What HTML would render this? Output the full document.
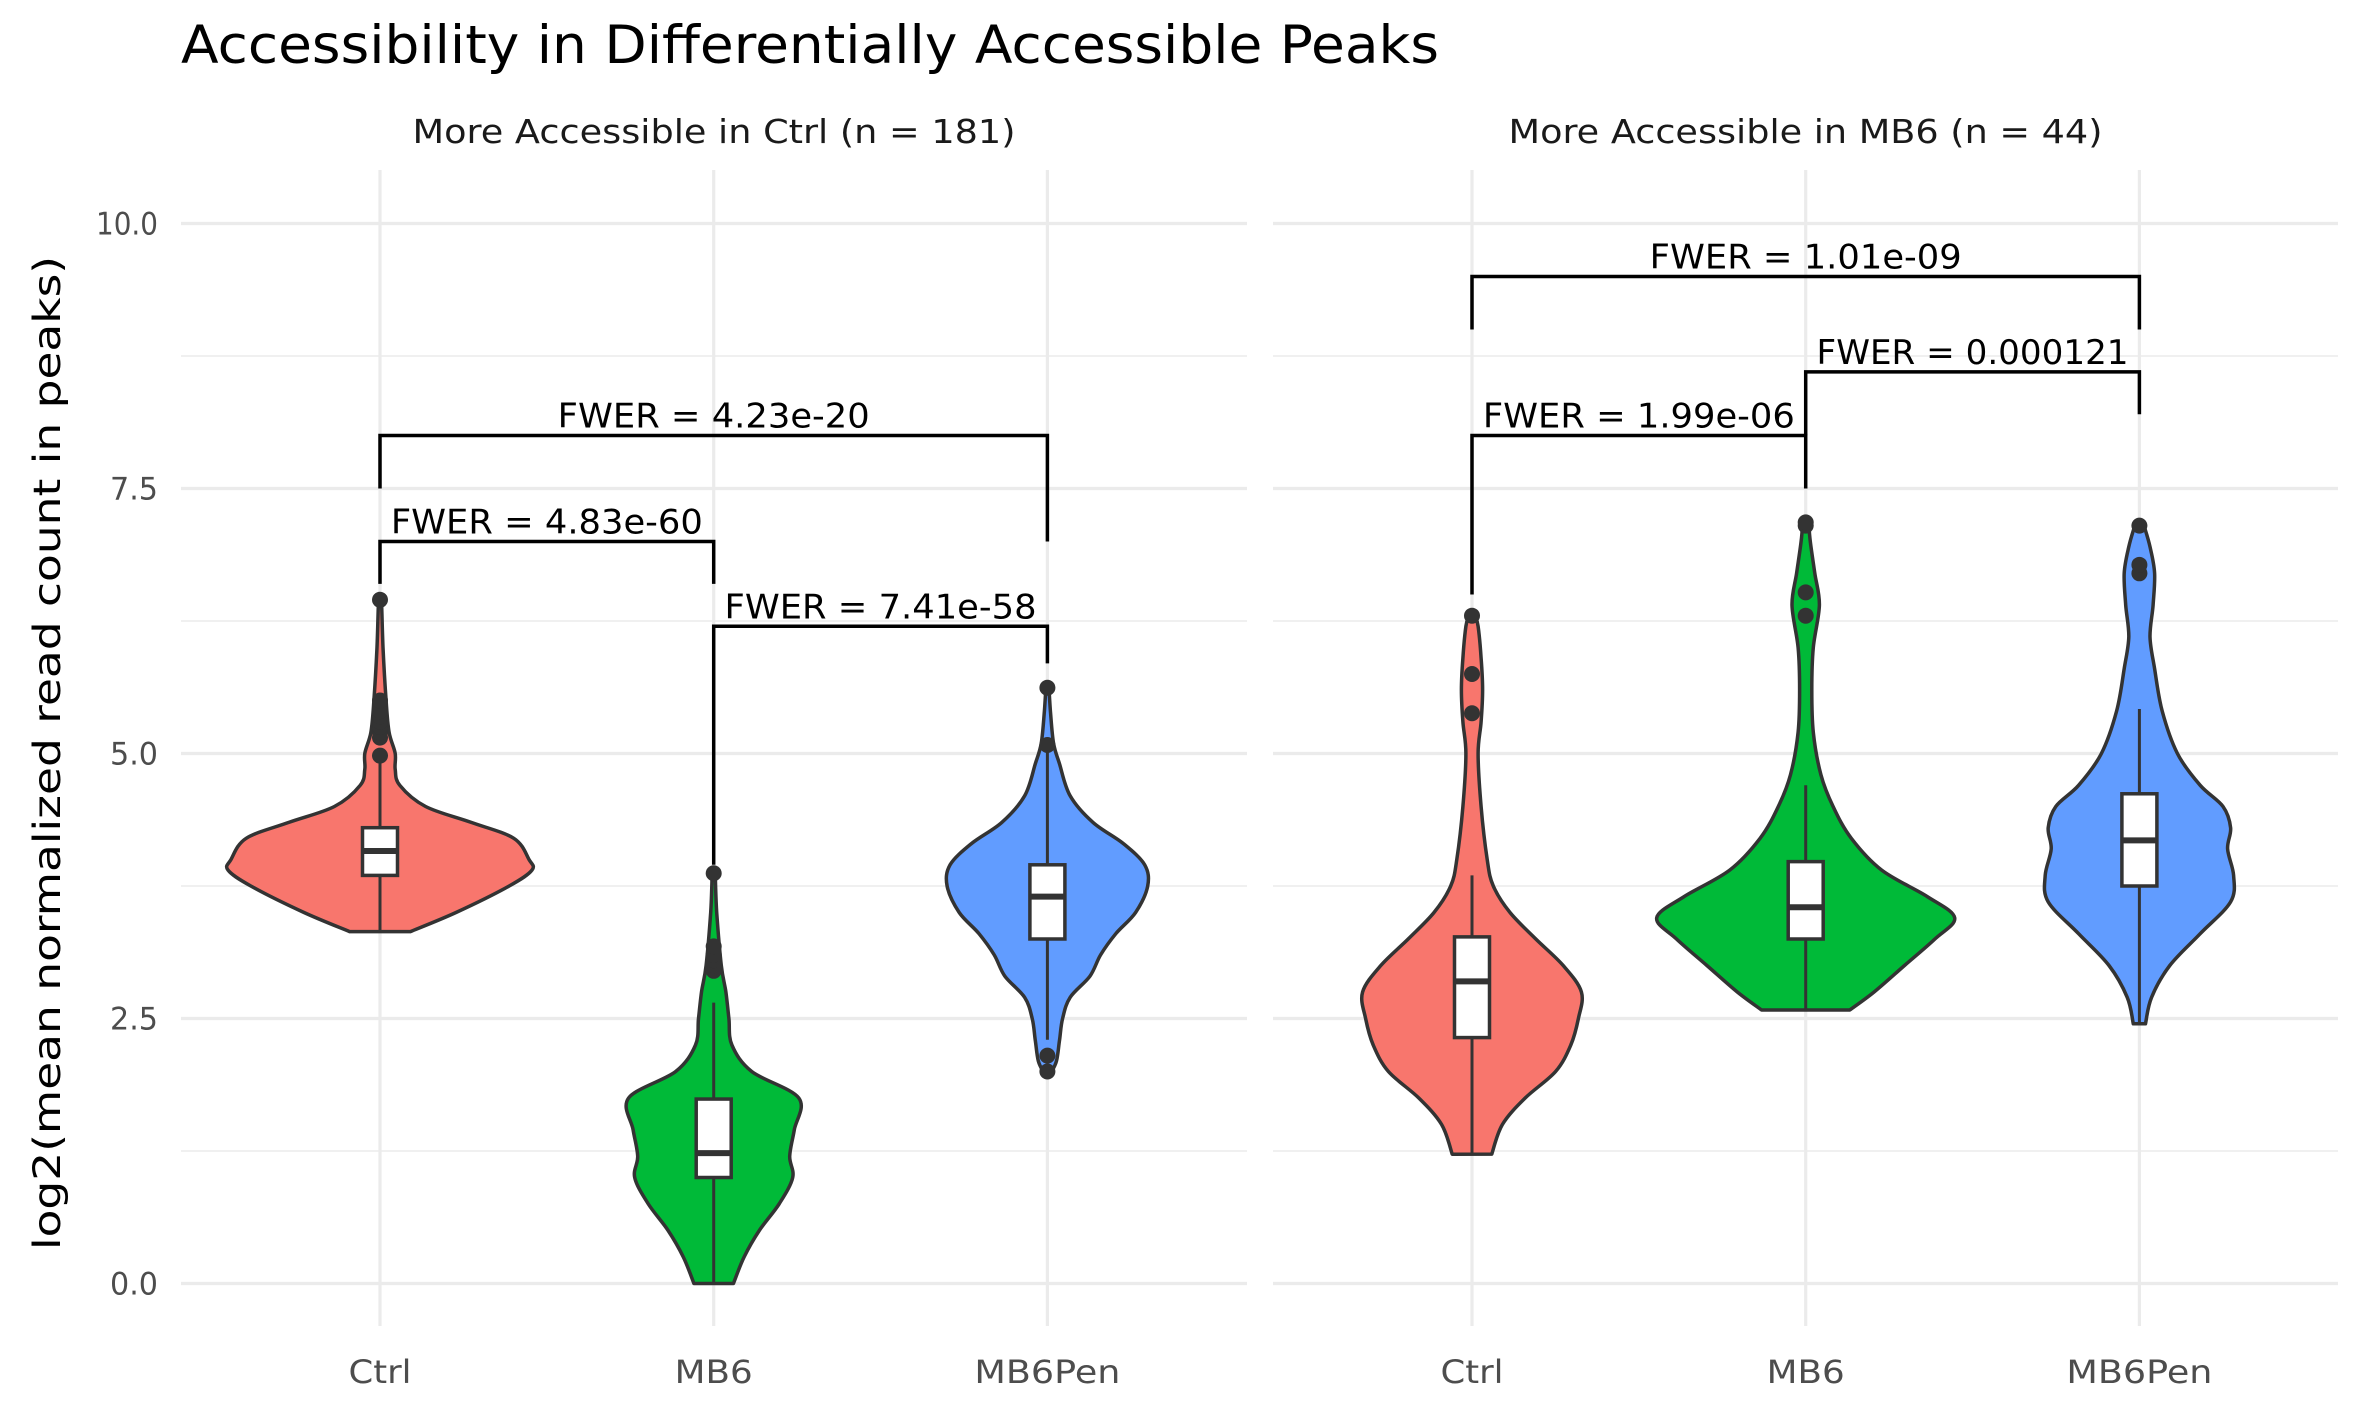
<!DOCTYPE html>
<html><head><meta charset="utf-8">
<style>
html,body{margin:0;padding:0;background:#fff;}
svg{display:block;font-family:"DejaVu Sans","Liberation Sans",sans-serif;}
</style></head>
<body>
<svg id="chart" width="2362" height="1417" viewBox="0 0 2362 1417" xmlns="http://www.w3.org/2000/svg">
<rect width="2362" height="1417" fill="#fff"/>
<text x="181" y="63" font-size="53" fill="#000" textLength="1258" lengthAdjust="spacingAndGlyphs">Accessibility in Differentially Accessible Peaks</text>
<text transform="translate(60,753) rotate(-90)" text-anchor="middle" font-size="37" fill="#000" textLength="994" lengthAdjust="spacingAndGlyphs">log2(mean normalized read count in peaks)</text>
<g id="grid"></g>
<g id="marks"></g>
</svg>
<script>
const categories = ["Ctrl","MB6","MB6Pen"];
const panelTitles = ["More Accessible in Ctrl (n = 181)","More Accessible in MB6 (n = 44)"];
const yTicks = [0, 2.5, 5, 7.5, 10];
const yTickLabels = ["0.0","2.5","5.0","7.5","10.0"];
const colors = ["#F8766D","#00BA38","#619CFF"];
// violin profiles: [value, relative half-width]
const violinP1 = [
 [[3.32,0.2],[3.5,0.5],[3.75,0.85],[3.9,1.0],[4.0,0.98],[4.2,0.88],[4.35,0.6],[4.5,0.3],[4.7,0.13],[4.85,0.1],[5.0,0.1],[5.2,0.06],[5.5,0.04],[6.0,0.02],[6.45,0.01]],
 [[0,0.13],[0.25,0.2],[0.5,0.3],[0.75,0.43],[1.0,0.52],[1.2,0.5],[1.45,0.53],[1.75,0.56],[2.0,0.25],[2.25,0.12],[2.5,0.1],[2.75,0.08],[3.0,0.05],[3.5,0.02],[3.87,0.01]],
 [[1.98,0.02],[2.1,0.06],[2.3,0.08],[2.5,0.1],[2.7,0.15],[2.9,0.28],[3.1,0.35],[3.3,0.45],[3.5,0.58],[3.75,0.66],[3.95,0.64],[4.15,0.5],[4.35,0.3],[4.6,0.15],[4.9,0.08],[5.1,0.04],[5.4,0.02],[5.62,0.01]]
];
const violinP2 = [
 [[1.22,0.13],[1.5,0.2],[1.75,0.35],[2.0,0.55],[2.25,0.65],[2.5,0.7],[2.75,0.72],[3.0,0.6],[3.25,0.42],[3.5,0.25],[3.75,0.14],[4.0,0.1],[4.5,0.06],[5.0,0.04],[5.3,0.06],[5.6,0.07],[5.9,0.06],[6.2,0.04],[6.3,0.02]],
 [[2.58,0.29],[2.75,0.45],[3.0,0.65],[3.25,0.85],[3.45,0.98],[3.65,0.8],[3.9,0.5],[4.2,0.3],[4.5,0.18],[4.8,0.1],[5.2,0.05],[5.6,0.04],[6.0,0.05],[6.4,0.09],[6.7,0.06],[7.0,0.03],[7.18,0.02]],
 [[2.45,0.04],[2.7,0.08],[3.0,0.2],[3.3,0.4],[3.6,0.6],[3.85,0.62],[4.1,0.58],[4.3,0.6],[4.5,0.55],[4.7,0.4],[5.0,0.25],[5.4,0.15],[5.8,0.1],[6.1,0.07],[6.4,0.09],[6.7,0.1],[6.95,0.07],[7.15,0.03]]
];
// box stats: [whiskerLow, q1, median, q3, whiskerHigh]
const boxP1 = [[3.32,3.85,4.08,4.3,4.95],[0,1.0,1.23,1.74,2.65],[2.3,3.25,3.65,3.95,5.05]];
const boxP2 = [[1.22,2.32,2.85,3.27,3.85],[2.58,3.25,3.55,3.98,4.7],[2.45,3.75,4.18,4.62,5.42]];
const outliersP1 = [[4.98,5.15,5.2,5.25,5.3,5.35,5.4,5.5,6.45],[2.95,3.0,3.05,3.1,3.18,3.87],[2.0,2.15,5.08,5.62]];
const outliersP2 = [[5.38,5.75,6.3],[6.3,6.52,7.15,7.18],[6.7,6.78,7.15]];
// brackets: [fromCat, toCat, topY, leftEndY, rightEndY, label]
const bracketsP1 = [[0,2,8.0,7.5,7.0,"FWER = 4.23e-20"],[0,1,7.0,6.6,6.6,"FWER = 4.83e-60"],[1,2,6.2,3.95,5.85,"FWER = 7.41e-58"]];
const bracketsP2 = [[0,2,9.5,9.0,9.0,"FWER = 1.01e-09"],[1,2,8.6,8.0,8.2,"FWER = 0.000121"],[0,1,8.0,6.5,7.5,"FWER = 1.99e-06"]];

const NS="http://www.w3.org/2000/svg";
const grid=document.getElementById('grid'), marks=document.getElementById('marks');
const panels=[{x0:181,x1:1247,c0:380,v:violinP1,b:boxP1,o:outliersP1,br:bracketsP1,t:panelTitles[0],tw:603},
              {x0:1273,x1:2338,c0:1472,v:violinP2,b:boxP2,o:outliersP2,br:bracketsP2,t:panelTitles[1],tw:594}];
const catStep=333.7;
const plotTop=170, plotBot=1326;
function yS(v){return 1283.5 - v*106.0;}
function xS(p,i){return p.c0+catStep*i;}
const maxHalf=152;
const xLabelW=[63,78,146];
const yLabelW=[48,48,48,48,62];
function mk(tag,attrs,parent){const e=document.createElementNS(NS,tag);for(const k in attrs)e.setAttribute(k,attrs[k]);parent.appendChild(e);return e;}
function spline(pts){
  let d="M"+pts[0][0]+","+pts[0][1];
  for(let i=0;i<pts.length-1;i++){
    const p0=pts[Math.max(i-1,0)],p1=pts[i],p2=pts[i+1],p3=pts[Math.min(i+2,pts.length-1)];
    const c1=[p1[0]+(p2[0]-p0[0])/6,p1[1]+(p2[1]-p0[1])/6];
    const c2=[p2[0]-(p3[0]-p1[0])/6,p2[1]-(p3[1]-p1[1])/6];
    d+=" C"+c1[0].toFixed(1)+","+c1[1].toFixed(1)+" "+c2[0].toFixed(1)+","+c2[1].toFixed(1)+" "+p2[0].toFixed(1)+","+p2[1].toFixed(1);
  }
  return d;
}
panels.forEach((p,pi)=>{
  for(let k=0;k<yTicks.length-1;k++){
    const v=(yTicks[k]+yTicks[k+1])/2;
    const l=mk('line',{x1:p.x0,x2:p.x1,y1:yS(v),y2:yS(v),stroke:'#ebebeb','stroke-width':1.6},grid);
    
    
  }
  yTicks.forEach((v,k)=>{
    const l=mk('line',{x1:p.x0,x2:p.x1,y1:yS(v),y2:yS(v),stroke:'#ebebeb','stroke-width':3.2},grid);
    
    
    if(pi===0){
      const t=mk('text',{x:158,y:yS(v)+11,'text-anchor':'end','font-size':31,fill:'#4d4d4d',textLength:yLabelW[k],lengthAdjust:'spacingAndGlyphs'},grid);
      t.textContent=yTickLabels[k];
      
      
    }
  });
  categories.forEach((c,i)=>{
    const x=xS(p,i);
    const l=mk('line',{x1:x,x2:x,y1:plotTop,y2:plotBot,stroke:'#ebebeb','stroke-width':3.2},grid);
    
    
    const t=mk('text',{x:x,y:1383,'text-anchor':'middle','font-size':32,fill:'#4d4d4d',textLength:xLabelW[i],lengthAdjust:'spacingAndGlyphs'},grid);
    t.textContent=c;
    
    
  });
  const st=mk('text',{x:(p.x0+p.x1)/2,y:143,'text-anchor':'middle','font-size':33,fill:'#1a1a1a',textLength:p.tw,lengthAdjust:'spacingAndGlyphs'},grid);
  st.textContent=p.t;
  
  

  categories.forEach((c,i)=>{
    const x=xS(p,i), prof=p.v[i];
    const right=prof.map(d=>[x+d[1]*maxHalf,yS(d[0])]);
    const left=prof.slice().reverse().map(d=>[x-d[1]*maxHalf,yS(d[0])]);
    let d=spline(right);
    d+=" L"+left[0][0].toFixed(1)+","+left[0][1].toFixed(1);
    d+=spline(left).replace(/^M[^ C]+/,"");
    d+=" Z";
    const v=mk('path',{d:d,fill:colors[i],stroke:'#333333','stroke-width':3.5,'stroke-linejoin':'round'},marks);
    
    
    const b=p.b[i], hw=17.5;
    const w=mk('line',{x1:x,x2:x,y1:yS(b[0]),y2:yS(b[4]),stroke:'#333333','stroke-width':3},marks);
    
    
    const r=mk('rect',{x:x-hw,y:yS(b[3]),width:hw*2,height:yS(b[1])-yS(b[3]),fill:'#fff',stroke:'#333333','stroke-width':3.5},marks);
    
    
    const m=mk('line',{x1:x-hw,x2:x+hw,y1:yS(b[2]),y2:yS(b[2]),stroke:'#333333','stroke-width':6},marks);
    
    
    p.o[i].forEach(o=>{
      const ci=mk('circle',{cx:x,cy:yS(o),r:8,fill:'#333333'},marks);
      
      
    });
  });
  p.br.forEach(br=>{
    const xa=xS(p,br[0]), xb=xS(p,br[1]);
    const pl=mk('polyline',{points:xa+","+yS(br[3])+" "+xa+","+yS(br[2])+" "+xb+","+yS(br[2])+" "+xb+","+yS(br[4]),fill:'none',stroke:'#000','stroke-width':3.5},marks);
    
    
    const t=mk('text',{x:(xa+xb)/2,y:yS(br[2])-8,'text-anchor':'middle','font-size':34,fill:'#000',textLength:br[5].length*20.8,lengthAdjust:'spacingAndGlyphs'},marks);
    t.textContent=br[5];
    
    
  });
});
</script>
</body></html>
